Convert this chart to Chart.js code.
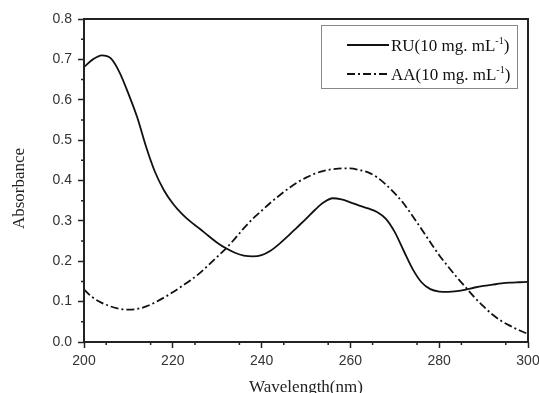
<!DOCTYPE html>
<html>
<head>
<meta charset="utf-8">
<script src="https://cdn.jsdelivr.net/npm/chart.js@4/dist/chart.umd.min.js"></script>
<style>
html, body { margin: 0; padding: 0; background: #ffffff; }
#box { width: 539px; height: 393px; }
</style>
</head>
<body>
<div id="box"><canvas id="chart"></canvas></div>
<script>
// ----------------------------------------------------------------------
//	absorbance spectra  RU / AA
// ----------------------------------------------------------------------
const wavelength = [200,202,204,206,208,210,212,214,216,218,220,222,224,226,228,230,232,234,236,238,
	240,242,244,246,248,250,252,254,256,258,260,262,264,266,268,270,272,274,276,278,
	280,282,284,286,288,290,292,294,296,298,300]

const ru_values = [0.681,0.700,0.710,0.703,0.668,0.615,0.556,0.483,0.421,0.376,0.343,0.318,0.298,0.281,0.263,0.246,0.232,0.221,0.214,0.212,
	0.215,0.226,0.243,0.263,0.284,0.305,0.327,0.346,0.356,0.353,0.346,0.338,0.331,0.322,0.305,0.272,0.226,0.181,0.148,0.131,
	0.125,0.124,0.126,0.130,0.135,0.139,0.142,0.145,0.147,0.148,0.149]

const aa_values = [0.130,0.110,0.097,0.088,0.082,0.080,0.082,0.088,0.098,0.110,0.123,0.138,0.153,0.170,0.190,0.211,0.232,0.256,0.282,0.305,
	0.325,0.345,0.363,0.380,0.395,0.407,0.417,0.424,0.428,0.430,0.430,0.426,0.420,0.408,0.390,0.368,0.343,0.312,0.280,0.247,
	0.215,0.187,0.160,0.135,0.110,0.088,0.068,0.052,0.040,0.029,0.020]

const series_names = ["RU(10 mg. mL", "AA(10 mg. mL"]
const x_title = "Wavelength(nm)"
const y_title = "Absorbance"

const dash_aa = [8,3,2,3]
const serif = '"Liberation Serif", "Times New Roman", serif'

// ----------------------------------------------------------------------
function make_points(xs, ys)
{
	var pts = []
	for (var it = 0; it < xs.length; it += 1)
		pts.push({x: xs[it], y: ys[it]})
	return pts
}

// ----------------------------------------------------------------------
// frame, minor ticks, axis titles and legend
const frame_plugin = {
	id: 'frame',
	afterDraw(chart)
	{
	const ctx = chart.ctx
	const area = chart.chartArea
	const sx = chart.scales.x
	const sy = chart.scales.y

	ctx.save()
	ctx.strokeStyle = '#222'
	ctx.lineWidth = 1.5

	// minor ticks
	ctx.beginPath()
	for (var v = 205; v < 300; v += 10)
		{
		const px = sx.getPixelForValue(v)
		ctx.moveTo(px, area.bottom)
		ctx.lineTo(px, area.bottom + 3)
		}
	for (var k = 0; k < 8; k += 1)
		{
		const py = sy.getPixelForValue(k * 0.1 + 0.05)
		ctx.moveTo(area.left, py)
		ctx.lineTo(area.left - 3, py)
		}
	ctx.stroke()

	// frame
	ctx.lineWidth = 2
	ctx.strokeRect(area.left, area.top, area.right - area.left, area.bottom - area.top)

	// axis titles
	ctx.fillStyle = '#222'
	ctx.textAlign = 'center'
	ctx.textBaseline = 'middle'
	ctx.font = '17px ' + serif
	ctx.fillText(x_title, (area.left + area.right) / 2, area.bottom + 46)
	ctx.save()
	ctx.translate(20, (area.top + area.bottom) / 2 + 8)
	ctx.rotate(-Math.PI / 2)
	ctx.fillText(y_title, 0, 0)
	ctx.restore()

	// legend
	const lx = area.right - 207
	const ly = area.top + 6
	ctx.lineWidth = 1
	ctx.strokeStyle = '#888'
	ctx.strokeRect(lx + 0.5, ly + 0.5, 196, 63)

	const rows = [[], dash_aa]
	for (var r = 0; r < 2; r += 1)
		{
		const yy = ly + 20 + r * 29
		ctx.strokeStyle = '#111'
		ctx.lineWidth = 1.8
		ctx.setLineDash(rows[r])
		ctx.beginPath()
		ctx.moveTo(lx + 26, yy)
		ctx.lineTo(lx + 68, yy)
		ctx.stroke()
		ctx.setLineDash([])

		ctx.fillStyle = '#111'
		ctx.textBaseline = 'middle'
		ctx.textAlign = 'left'
		ctx.font = '17px ' + serif
		var tx = lx + 70
		ctx.fillText(series_names[r], tx, yy + 2)
		tx += ctx.measureText(series_names[r]).width
		ctx.font = '10px ' + serif
		ctx.fillText("-1", tx, yy - 4)
		tx += ctx.measureText("-1").width
		ctx.font = '17px ' + serif
		ctx.fillText(")", tx, yy + 2)
		}
	ctx.restore()
	}
}

// ----------------------------------------------------------------------
function prog01 ()
{
	const graph_data = {
		datasets: [
			{ label: series_names[0], data: make_points(wavelength, ru_values),
				borderColor: '#111', borderWidth: 1.8, pointRadius: 0,
				cubicInterpolationMode: 'monotone' },
			{ label: series_names[1], data: make_points(wavelength, aa_values),
				borderColor: '#111', borderWidth: 1.8, pointRadius: 0, borderDash: dash_aa,
				cubicInterpolationMode: 'monotone' }
			]
		}

	const tick_font = { family: '"Liberation Sans", Arial, sans-serif', size: 14 }

	const options = {
		responsive: false,
		animation: false,
		layout: { padding: { top: 19, right: 11, left: 0, bottom: 0 } },
		plugins: { legend: { display: false }, tooltip: { enabled: false } },
		scales: {
			x: {
				type: 'linear', min: 200, max: 300,
				ticks: { stepSize: 20, color: '#333', font: tick_font, padding: 5, maxRotation: 0 },
				grid: { drawOnChartArea: false, tickLength: 6, color: '#222', tickWidth: 1.5 },
				border: { display: false },
				afterFit: function (scale)
					{
					scale.height = 51
					scale.paddingLeft = 0
					scale.paddingRight = 0
					}
				},
			y: {
				type: 'linear', min: 0, max: 0.8,
				ticks: { stepSize: 0.1, color: '#333', font: tick_font, padding: 6,
					callback: function (v) { return v.toFixed(1) } },
				grid: { drawOnChartArea: false, tickLength: 6, color: '#222', tickWidth: 1.5 },
				border: { display: false },
				afterFit: function (scale)
					{
					scale.width = 84
					scale.paddingTop = 0
					scale.paddingBottom = 0
					}
				}
			}
		}

	const canvas = document.getElementById("chart")
	canvas.width = 539
	canvas.height = 393
	new Chart(canvas, { type: 'line', data: graph_data, options: options, plugins: [frame_plugin] })
}

prog01 ()
// ----------------------------------------------------------------------
</script>
</body>
</html>
